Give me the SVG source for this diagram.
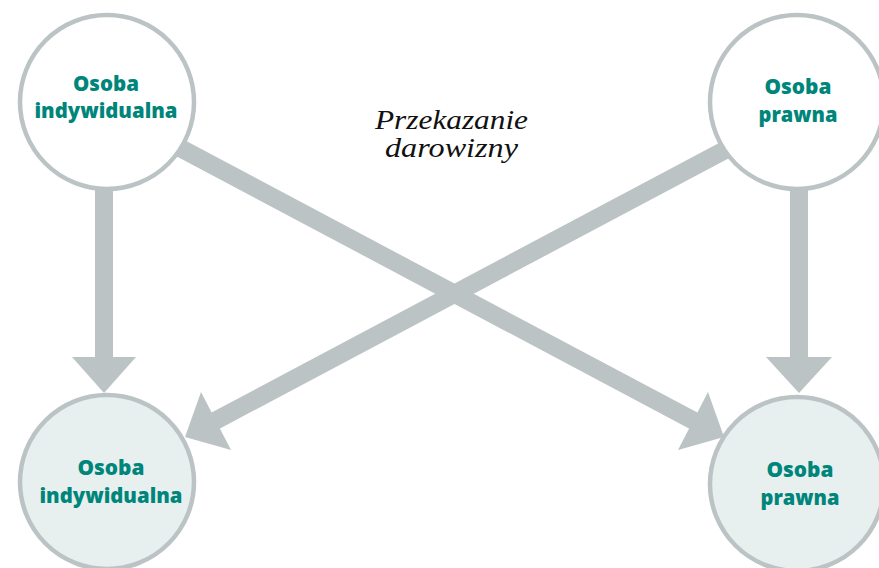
<svg xmlns="http://www.w3.org/2000/svg" width="879" height="568" viewBox="0 0 879 568">
<style>
.shaft{stroke:#BCC3C5;stroke-width:18;fill:none}
.head{fill:#BCC3C5}
.node{stroke:#BCC3C5;stroke-width:4.5}
.src{fill:#FFFFFF}
.dst{fill:#E7F0EF}
.lbl{font-family:"Open Sans","Noto Sans",sans-serif;font-weight:800;font-size:21px;fill:#00857A;text-anchor:middle}
.cap{font-family:"Liberation Serif","DejaVu Serif",serif;font-style:italic;font-size:28px;fill:#111111;text-anchor:middle}
</style>
<rect width="879" height="568" fill="#FFFFFF"/>
<g id="connectors">
  <line class="shaft" x1="104" y1="150" x2="104" y2="359"/>
  <polygon class="head" points="72,357 136,357 104,393"/>
  <line class="shaft" x1="799" y1="150" x2="799" y2="359"/>
  <polygon class="head" points="766,357 832,357 799,393"/>
  <line class="shaft" x1="150" y1="132" x2="696" y2="422"/>
  <polygon class="head" points="708,392 678,450 724,437"/>
  <line class="shaft" x1="759" y1="132" x2="213" y2="422"/>
  <polygon class="head" points="201,392 231,450 185,437"/>
</g>
<g id="node-src-ind">
  <circle class="node src" cx="107" cy="102" r="87"/>
  <text class="lbl" x="106" y="91" textLength="66" lengthAdjust="spacingAndGlyphs">Osoba</text>
  <text class="lbl" x="106" y="118" textLength="143" lengthAdjust="spacingAndGlyphs">indywidualna</text>
</g>
<g id="node-src-pr">
  <circle class="node src" cx="797" cy="102" r="87"/>
  <text class="lbl" x="798" y="94" textLength="67" lengthAdjust="spacingAndGlyphs">Osoba</text>
  <text class="lbl" x="798" y="122" textLength="79" lengthAdjust="spacingAndGlyphs">prawna</text>
</g>
<g id="node-dst-ind">
  <circle class="node dst" cx="107" cy="482" r="87"/>
  <text class="lbl" x="111" y="475" textLength="67" lengthAdjust="spacingAndGlyphs">Osoba</text>
  <text class="lbl" x="111" y="503" textLength="143" lengthAdjust="spacingAndGlyphs">indywidualna</text>
</g>
<g id="node-dst-pr">
  <circle class="node dst" cx="797" cy="484" r="87"/>
  <text class="lbl" x="800" y="477" textLength="67" lengthAdjust="spacingAndGlyphs">Osoba</text>
  <text class="lbl" x="800" y="505" textLength="79" lengthAdjust="spacingAndGlyphs">prawna</text>
</g>
<g id="caption">
  <text class="cap" x="451.5" y="129" textLength="153" lengthAdjust="spacingAndGlyphs">Przekazanie</text>
  <text class="cap" x="451.5" y="157" textLength="133" lengthAdjust="spacingAndGlyphs">darowizny</text>
</g>
</svg>
